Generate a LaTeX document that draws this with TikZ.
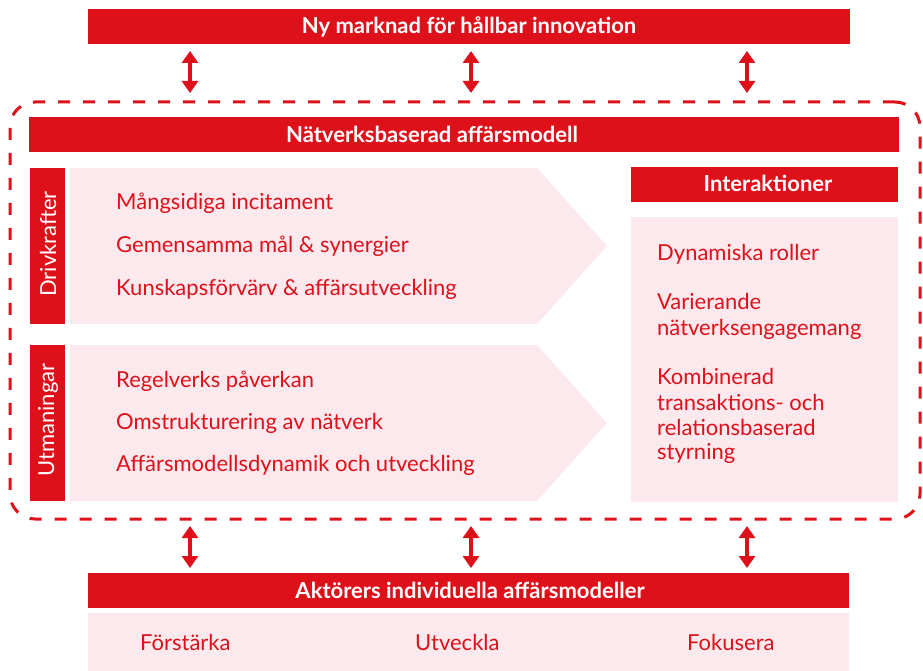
\documentclass[tikz,border=0pt]{standalone}
\usepackage{fontspec}
\setmainfont{Lato}
\usetikzlibrary{arrows.meta}
\definecolor{brandred}{RGB}{222,17,27}
\definecolor{blush}{RGB}{251,233,237}

\begin{document}
\begin{tikzpicture}[x=1pt,y=-1pt,
  box/.style={draw=none, inner sep=0pt, outer sep=0pt, anchor=north west},
  redbar/.style={box, fill=brandred},
  pinkbox/.style={box, fill=blush},
  hdr/.style={text=white, font=\fontsize{22}{26}\selectfont\bfseries, inner sep=0pt, anchor=base},
  side/.style={text=white, font=\fontsize{22}{26}\selectfont, inner sep=0pt, rotate=90},
  item/.style={text=brandred, font=\fontsize{22}{26}\selectfont, inner sep=0pt, anchor=base west},
  frame/.style={draw=brandred, line width=3pt, dash pattern=on 12pt off 13pt,
    rounded corners=25pt, inner sep=0pt, outer sep=0pt},
  dbl/.style={draw=brandred, line width=4pt,
    {Triangle[width=16pt,length=12pt]}-{Triangle[width=16pt,length=12pt]}},
]
\useasboundingbox (0,0) rectangle (923,671);

% top bar
\node[redbar, minimum width=762pt, minimum height=35pt] (topbar) at (88,9) {};
\node[hdr] (toptext) at (469,34) {Ny marknad för hållbar innovation};

% dashed frame around the network model
\node[frame, minimum width=910pt, minimum height=417pt] (frm) at (465,310.5) {};

% network business model header
\node[redbar, minimum width=870pt, minimum height=35pt] (netbar) at (29,117) {};
\node[hdr] (nettext) at (432,143) {Nätverksbaserad affärsmodell};

% drivers
\node[redbar, minimum width=35pt, minimum height=156pt] (drvbar) at (30,168) {};
\node[side] (drvtext) at (48,244) {Drivkrafter};
\fill[blush] (70,168) -- (537,168) -- (607,246) -- (537,324) -- (70,324) -- cycle;
\node[item] (d1) at (116,210) {Mångsidiga incitament};
\node[item] (d2) at (116,252) {Gemensamma mål \& synergier};
\node[item] (d3) at (116,295) {Kunskapsförvärv \& affärsutveckling};

% challenges
\node[redbar, minimum width=35pt, minimum height=156pt] (chbar) at (30,345) {};
\node[side] (chtext) at (48,420) {Utmaningar};
\fill[blush] (70,345) -- (537,345) -- (607,423) -- (537,501) -- (70,501) -- cycle;
\node[item] (c1) at (116,387) {Regelverks påverkan};
\node[item] (c2) at (116,429) {Omstrukturering av nätverk};
\node[item] (c3) at (116,471) {Affärsmodellsdynamik och utveckling};

% interactions
\node[redbar, minimum width=267pt, minimum height=35pt] (intbar) at (631,167) {};
\node[hdr] (inttext) at (768,192) {Interaktioner};
\node[pinkbox, minimum width=267pt, minimum height=285pt] (intbox) at (631,217) {};
\node[item] (i1) at (657,260) {Dynamiska roller};
\node[item] (i2) at (657,309) {Varierande};
\node[item] (i3) at (657,335) {nätverksengagemang};
\node[item] (i4) at (657,384) {Kombinerad};
\node[item] (i5) at (657,410) {transaktions- och};
\node[item] (i6) at (657,435) {relationsbaserad};
\node[item] (i7) at (657,459) {styrning};

% individual business models
\node[redbar, minimum width=761pt, minimum height=35pt] (botbar) at (88,573) {};
\node[hdr] (bottext) at (470,598) {Aktörers individuella affärsmodeller};
\node[pinkbox, minimum width=761pt, minimum height=58pt] (botbox) at (88,613) {};
\node[item] (b1) at (140,650) {Förstärka};
\node[item] (b2) at (415,650) {Utveckla};
\node[item] (b3) at (687,650) {Fokusera};

% two-way links
\coordinate (xa) at (190,0);
\coordinate (xb) at (471,0);
\coordinate (xc) at (747,0);
\foreach \c in {xa,xb,xc}{
  \draw[dbl, shorten <=7pt, shorten >=9pt] (topbar.south -| \c) -- (frm.north -| \c);
  \draw[dbl, shorten <=7pt, shorten >=5pt] (frm.south -| \c) -- (botbar.north -| \c);
}
\end{tikzpicture}
\end{document}
